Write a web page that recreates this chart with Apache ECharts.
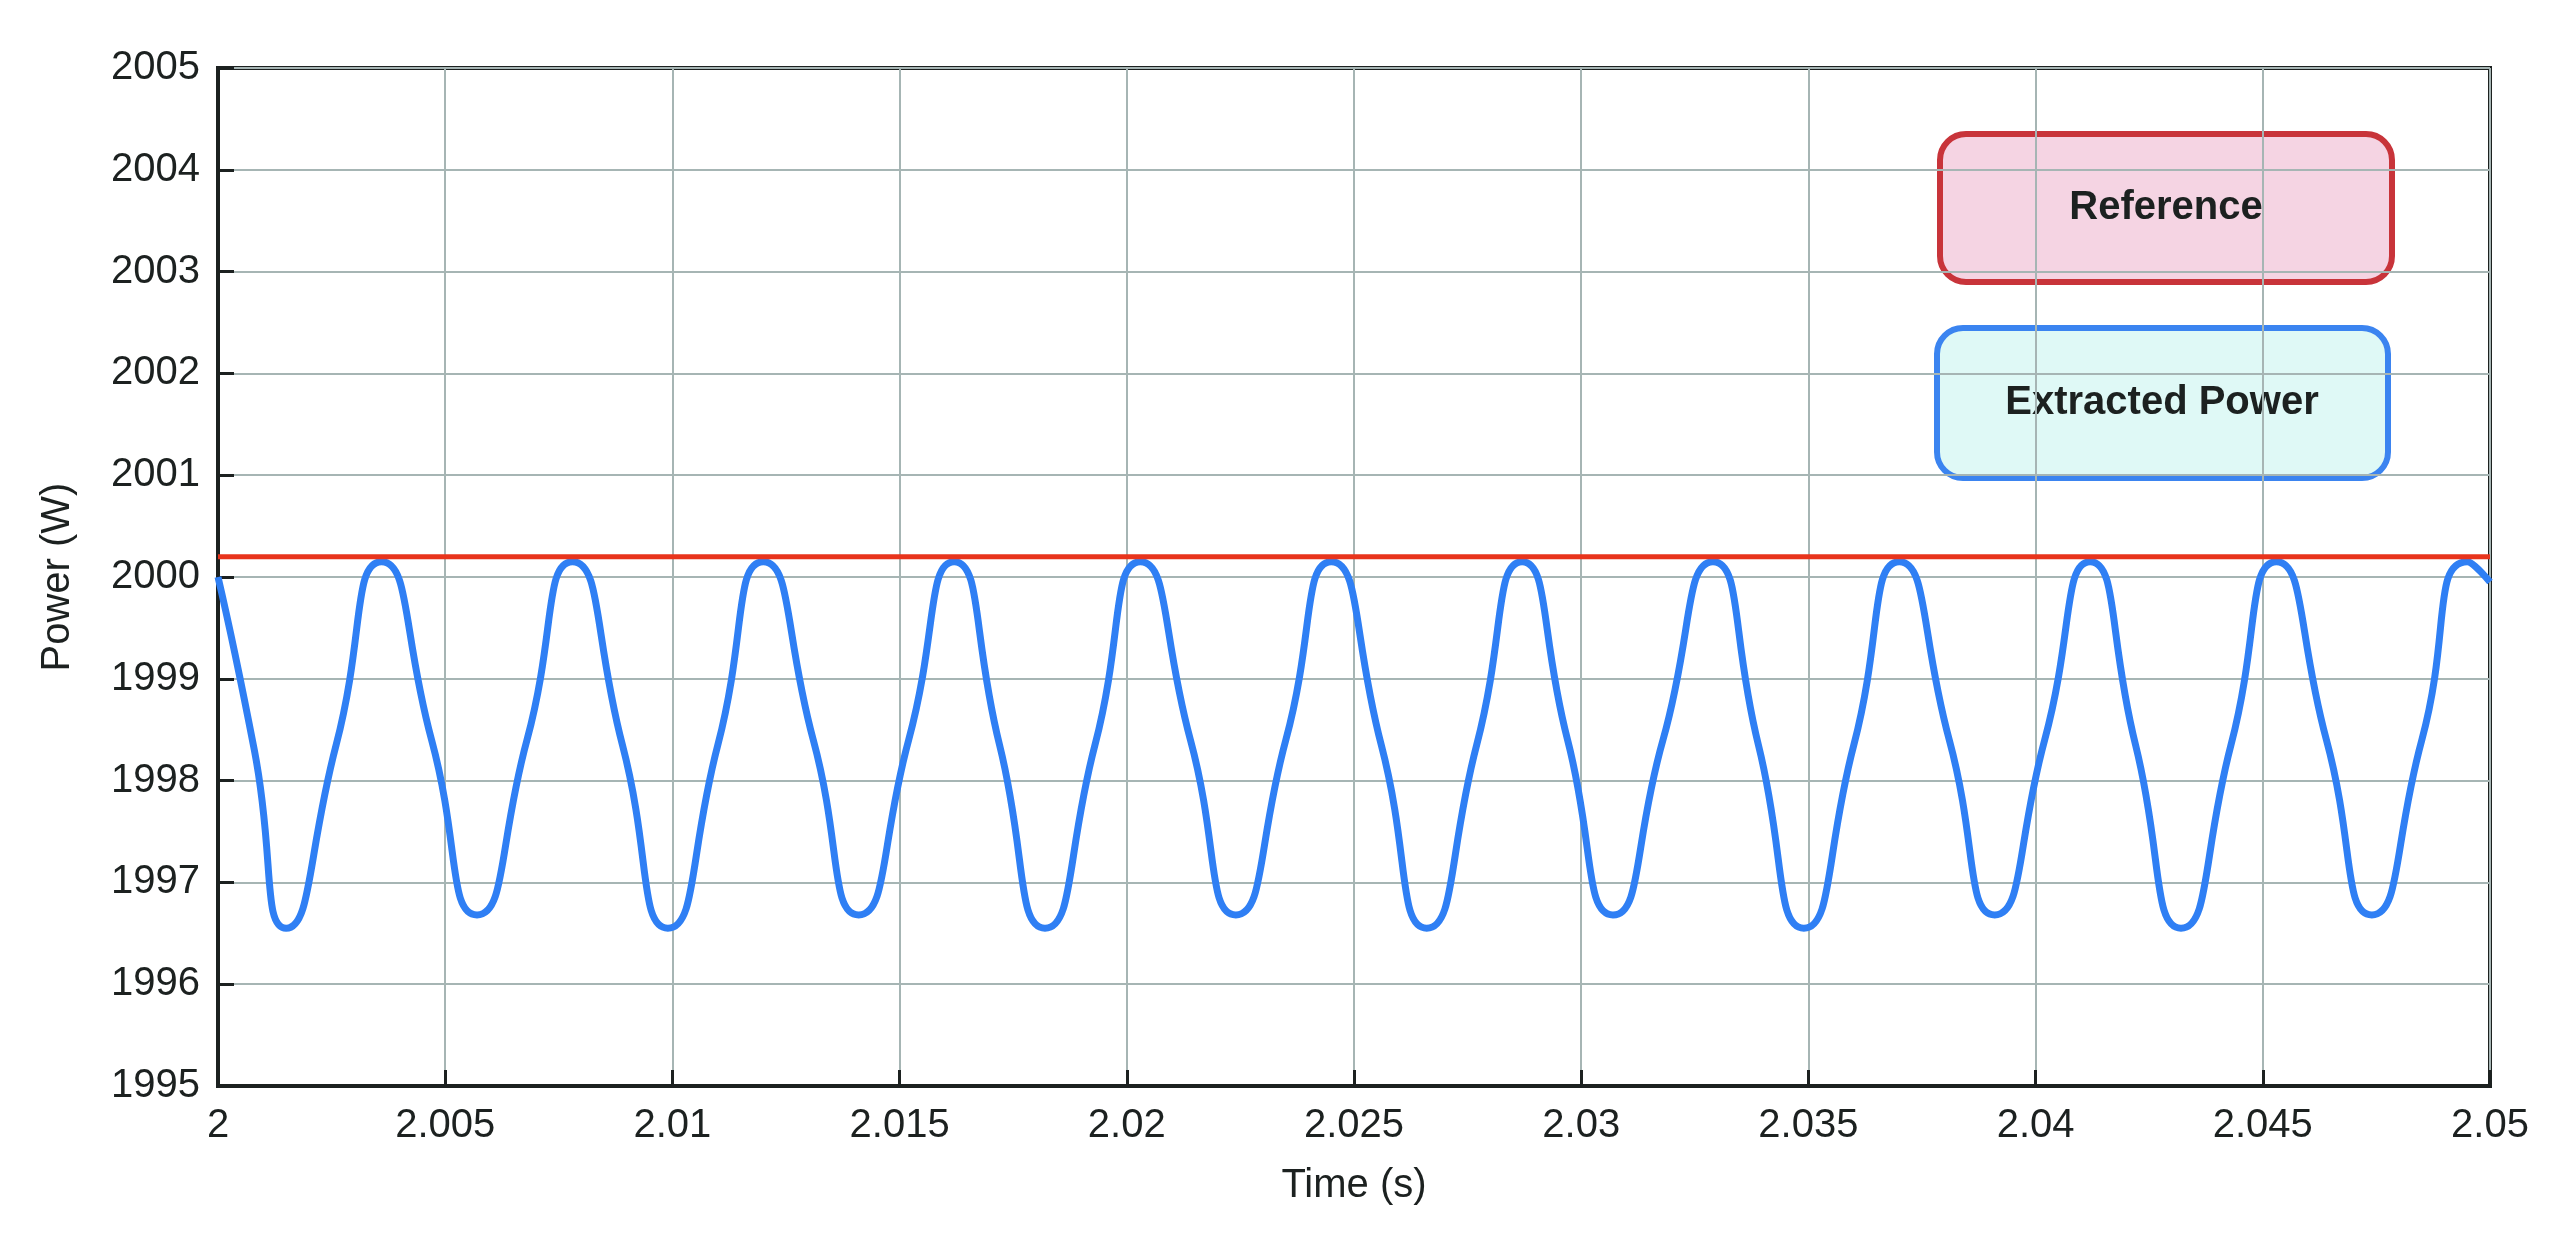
<!DOCTYPE html>
<html>
<head>
<meta charset="utf-8">
<script src="https://cdn.jsdelivr.net/npm/echarts@6/dist/echarts.min.js"></script>
<style>html,body{margin:0;padding:0;background:#fff}#chart{width:2570px;height:1236px}</style>
</head>
<body>
<div id="chart"></div>
<script>
// readings: peaks, troughs and half-way points of the extracted power
const times = [2.0000, 2.0008, 2.0015, 2.0026, 2.0036, 2.0047, 2.0057, 2.0068, 2.0078, 2.0089,
  2.0099, 2.0110, 2.0120, 2.0131, 2.0141, 2.0152, 2.0162, 2.0172, 2.0182, 2.0193,
  2.0203, 2.0214, 2.0224, 2.0235, 2.0245, 2.0256, 2.0266, 2.0277, 2.0287, 2.0297,
  2.0307, 2.0318, 2.0329, 2.0339, 2.0349, 2.0360, 2.0370, 2.0381, 2.0391, 2.0402,
  2.0412, 2.0422, 2.0432, 2.0443, 2.0453, 2.0464, 2.0474, 2.0485, 2.0495, 2.0500]
const extracted = [2000.0, 1998.3, 1996.55, 1998.35, 2000.15, 1998.4, 1996.68, 1998.4, 2000.15, 1998.35,
  1996.55, 1998.35, 2000.15, 1998.4, 1996.68, 1998.4, 2000.15, 1998.35, 1996.55, 1998.35,
  2000.15, 1998.4, 1996.68, 1998.4, 2000.15, 1998.35, 1996.55, 1998.35, 2000.15, 1998.4,
  1996.68, 1998.4, 2000.15, 1998.35, 1996.55, 1998.35, 2000.15, 1998.4, 1996.68, 1998.4,
  2000.15, 1998.35, 1996.55, 1998.35, 2000.15, 1998.4, 1996.68, 1998.4, 2000.15, 1999.95]
const refTimes = [2.0, 2.05]
const reference = [2000.2, 2000.2]

const font = 'Liberation Sans'
const ink = '#1c2120'
const chart = echarts.init(document.getElementById('chart'))

chart.setOption({
  animation: false,
  grid: { left: 218, right: 80, top: 68, bottom: 150, show: true, borderColor: ink, borderWidth: 4 },
  xAxis: {
    type: 'value', min: 2, max: 2.05, interval: 0.005,
    name: 'Time (s)', nameLocation: 'middle', nameGap: 80,
    nameTextStyle: { fontFamily: font, fontSize: 40, color: ink },
    axisLabel: { fontFamily: font, fontSize: 40, color: ink, margin: 20,
      formatter: v => String(parseFloat(v.toFixed(3))) },
    axisLine: { onZero: false, lineStyle: { color: ink, width: 4 } },
    axisTick: { inside: true, length: 16, lineStyle: { color: ink, width: 3 } },
    splitLine: { lineStyle: { color: '#a6b5b4', width: 2 } }
  },
  yAxis: {
    type: 'value', min: 1995, max: 2005, interval: 1,
    name: 'Power (W)', nameLocation: 'middle', nameGap: 140,
    nameTextStyle: { fontFamily: font, fontSize: 40, color: ink },
    axisLabel: { fontFamily: font, fontSize: 40, color: ink, margin: 18, formatter: v => String(v) },
    axisLine: { onZero: false, lineStyle: { color: ink, width: 4 } },
    axisTick: { inside: true, length: 16, lineStyle: { color: ink, width: 3 } },
    splitLine: { lineStyle: { color: '#a6b5b4', width: 2 } }
  },
  series: [{
    type: 'line', name: 'Extracted Power', showSymbol: false, smooth: 0.6,
    data: times.map((t, i) => [t, extracted[i]]),
    lineStyle: { color: '#2f7ff4', width: 7 }, z: 3
  }, {
    type: 'line', name: 'Reference', showSymbol: false,
    data: refTimes.map((t, i) => [t, reference[i]]),
    lineStyle: { color: '#e8341c', width: 5 }, z: 4
  }],
  graphic: [{
    type: 'group', left: 1937, top: 131, children: [
      { type: 'rect', shape: { width: 452, height: 148, r: 26 },
        style: { fill: '#f5d4e3', stroke: '#c8343a', lineWidth: 6 } },
      { type: 'text', x: 226, y: 74, style: { text: 'Reference', fontFamily: font, fontWeight: 'bold',
        fontSize: 40, fill: ink, align: 'center', verticalAlign: 'middle' } }
    ]
  }, {
    type: 'group', left: 1934, top: 325, children: [
      { type: 'rect', shape: { width: 451, height: 150, r: 26 },
        style: { fill: '#dff9f6', stroke: '#3b84f0', lineWidth: 6 } },
      { type: 'text', x: 225, y: 75, style: { text: 'Extracted Power', fontFamily: font, fontWeight: 'bold',
        fontSize: 40, fill: ink, align: 'center', verticalAlign: 'middle' } }
    ]
  }]
})
</script>
</body>
</html>
